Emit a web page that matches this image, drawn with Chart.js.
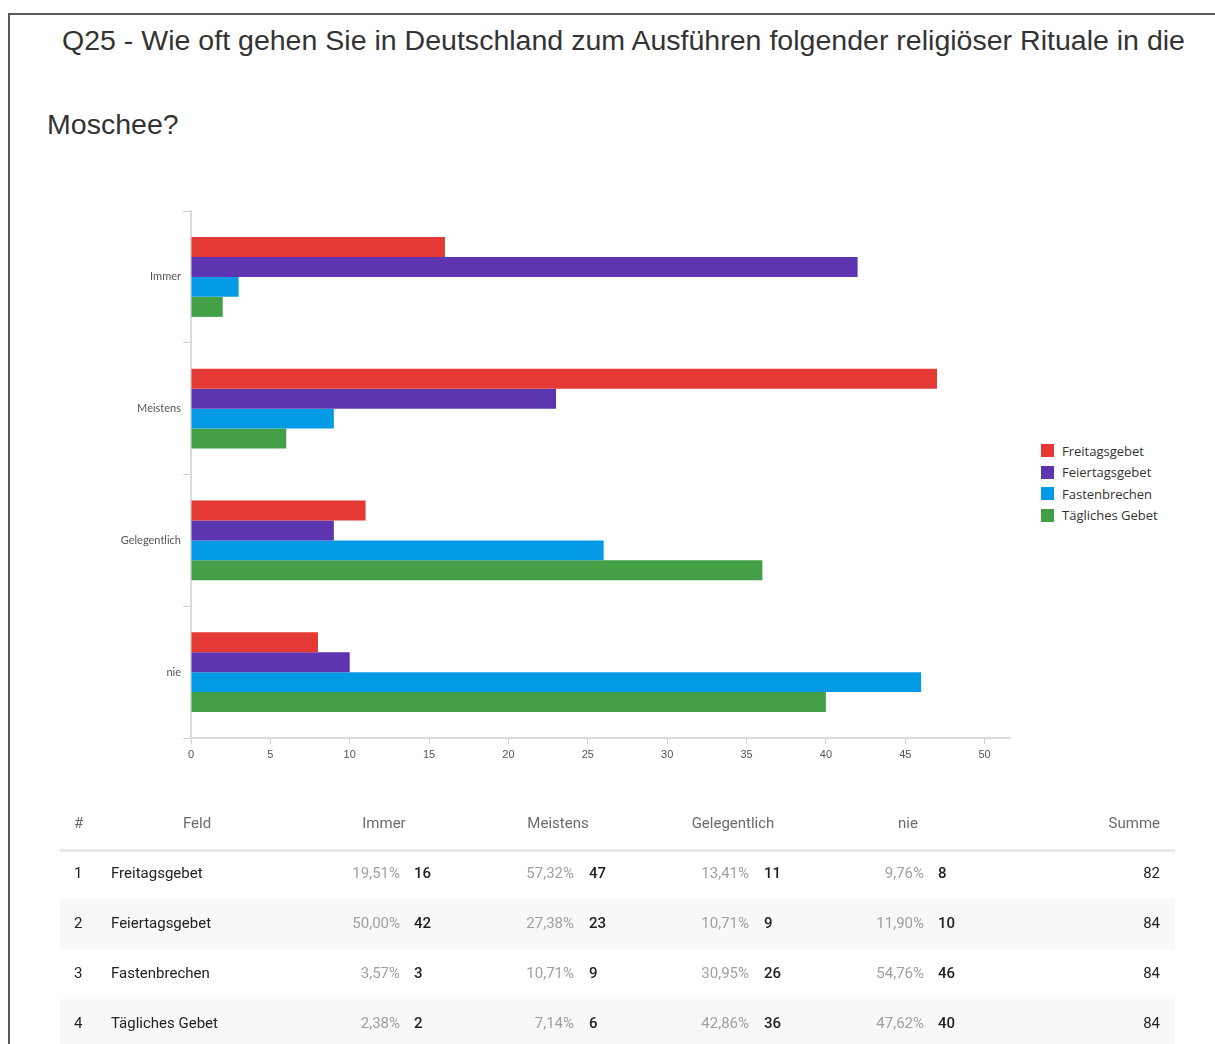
<!DOCTYPE html>
<html>
<head>
<meta charset="utf-8">
<script src="https://cdn.jsdelivr.net/npm/chart.js@4/dist/chart.umd.min.js"></script>
<style>
    body { margin: 0; width: 1215px; height: 1044px; overflow: hidden; background: #fff; position: relative; }
    .frame { position: absolute; left: 8px; top: 13px; right: -10px; bottom: -10px; border-top: 2px solid #5a5a5a; border-left: 2px solid #5a5a5a; }
    .title { position: absolute; font-family: "Liberation Sans", Arial, sans-serif; font-size: 27px; color: #333; line-height: 30px; white-space: nowrap; transform-origin: 0 50%; }
    #chartBox { position: absolute; left: 0; top: 190px; width: 1030px; height: 588px; }
    #legend { position: absolute; left: 1041px; top: 440px; font-family: "Open Sans", sans-serif; font-size: 13px; color: #333; }
    #legend .item { height: 21.5px; display: flex; align-items: center; white-space: nowrap; }
    #legend .box { width: 13px; height: 13px; margin-right: 8px; }
    #table { position: absolute; left: 0; top: 0; width: 1215px; height: 1044px; font-family: Roboto, sans-serif; font-size: 15px; }
    .cell { position: absolute; line-height: 20px; white-space: nowrap; }
    .hdr { color: #6b6b6b; }
    .pct { color: #a0a0a0; }
    .cnt { color: #222; font-weight: 500; }
    .txt { color: #222; }
</style>
</head>
<body>
<div class="frame"></div>
<div class="title" id="title1" style="left:62px; top:26px;">Q25 - Wie oft gehen Sie in Deutschland zum Ausführen folgender religiöser Rituale in die</div>
<div class="title" id="title2" style="left:47px; top:110px;">Moschee?</div>
<div id="chartBox"><canvas id="chart"></canvas></div>
<div id="legend"></div>
<div id="table"></div>
<script>
// answer categories (y axis)
const categories = ['Immer', 'Meistens', 'Gelegentlich', 'nie'];
// rituals (series)
const seriesNames = ['Freitagsgebet', 'Feiertagsgebet', 'Fastenbrechen', 'Tägliches Gebet'];
const freitagsgebet = [16, 47, 11, 8];
const feiertagsgebet = [42, 23, 9, 10];
const fastenbrechen = [3, 9, 26, 46];
const taeglichesGebet = [2, 6, 36, 40];
const seriesColors = ['#E53935', '#5E35B1', '#039BE5', '#43A047'];
const xTicks = [0, 5, 10, 15, 20, 25, 30, 35, 40, 45, 50];

const seriesValues = [freitagsgebet, feiertagsgebet, fastenbrechen, taeglichesGebet];

// squeeze the title to the width it has in the original
const t1 = document.getElementById('title1');
const sx = 1123 / t1.getBoundingClientRect().width;
t1.style.transform = 'scaleX(' + sx + ')';
document.getElementById('title2').style.transform = 'scaleX(' + sx + ')';

const datasets = seriesNames.map((name, i) => ({
    label: name,
    data: seriesValues[i],
    backgroundColor: seriesColors[i],
    borderWidth: 0,
    categoryPercentage: 0.607,
    barPercentage: 1.0,
}));

const chart = new Chart(document.getElementById('chart').getContext('2d'), {
    type: 'bar',
    data: { labels: categories, datasets: datasets },
    options: {
        indexAxis: 'y',
        responsive: true,
        maintainAspectRatio: false,
        animation: false,
        layout: { padding: { left: 0, right: 20, top: 21, bottom: 0 } },
        plugins: {
            legend: { display: false },
            tooltip: { enabled: false },
        },
        scales: {
            x: {
                min: 0,
                max: 51.6,
                afterBuildTicks: (scale) => {
                    scale.ticks = xTicks.map((v) => ({ value: v }));
                },
                afterFit: (scale) => { scale.height = 40; },
                border: { color: '#dcdcdc', width: 2 },
                grid: { drawOnChartArea: false, tickLength: 6, color: '#d0d0d0' },
                ticks: {
                    color: '#555',
                    padding: 4,
                    maxRotation: 0,
                    font: { family: '"Liberation Sans Narrow", "Liberation Sans", sans-serif', size: 11 },
                },
            },
            y: {
                offset: true,
                afterFit: (scale) => { scale.width = 191; },
                border: { color: '#dcdcdc', width: 2 },
                grid: { offset: true, drawOnChartArea: false, tickLength: 8, color: '#cfcfcf' },
                ticks: {
                    color: '#555',
                    padding: 2,
                    font: { family: 'Lato, sans-serif', size: 11 },
                },
            },
        },
    },
});

// legend built from the chart's datasets
const legendEl = document.getElementById('legend');
chart.data.datasets.forEach((ds) => {
    const item = document.createElement('div');
    item.className = 'item';
    item.innerHTML = '<span class="box" style="background:' + ds.backgroundColor + '"></span>' + ds.label;
    legendEl.appendChild(item);
});

// summary table below the chart
const tableEl = document.getElementById('table');
function addCell(text, cls, x, y, align) {
    const d = document.createElement('div');
    d.className = 'cell ' + cls;
    d.textContent = text;
    d.style.top = (y - 10) + 'px';
    if (align === 'right') {
        d.style.right = (1215 - x) + 'px';
    } else if (align === 'center') {
        d.style.left = (x - 100) + 'px';
        d.style.width = '200px';
        d.style.textAlign = 'center';
    } else {
        d.style.left = x + 'px';
    }
    tableEl.appendChild(d);
}
function addRect(x, y, w, h, color) {
    const d = document.createElement('div');
    d.style.cssText = 'position:absolute;left:' + x + 'px;top:' + y + 'px;width:' + w + 'px;height:' + h + 'px;background:' + color;
    tableEl.appendChild(d);
}

const colCenters = [384, 558, 733, 908];
const pctRight = [400, 574, 749, 924];
const cntLeft = [414, 589, 764, 938];
const rowY = [873, 923, 973, 1023];

addRect(60, 849, 1115, 3, '#e8e8e8');
addRect(60, 899, 1115, 50, '#f8f8f8');
addRect(60, 999, 1115, 50, '#f8f8f8');

addCell('#', 'hdr', 74, 823, 'left');
addCell('Feld', 'hdr', 197, 823, 'center');
categories.forEach((c, i) => addCell(c, 'hdr', colCenters[i], 823, 'center'));
addCell('Summe', 'hdr', 1160, 823, 'right');

seriesNames.forEach((name, r) => {
    const vals = seriesValues[r];
    const total = vals.reduce((a, b) => a + b, 0);
    addCell(String(r + 1), 'txt', 74, rowY[r], 'left');
    addCell(name, 'txt', 111, rowY[r], 'left');
    vals.forEach((v, c) => {
        const pct = ((v / total) * 100).toFixed(2).replace('.', ',') + '%';
        addCell(pct, 'pct', pctRight[c], rowY[r], 'right');
        addCell(String(v), 'cnt', cntLeft[c], rowY[r], 'left');
    });
    addCell(String(total), 'txt', 1160, rowY[r], 'right');
});
</script>
</body>
</html>
